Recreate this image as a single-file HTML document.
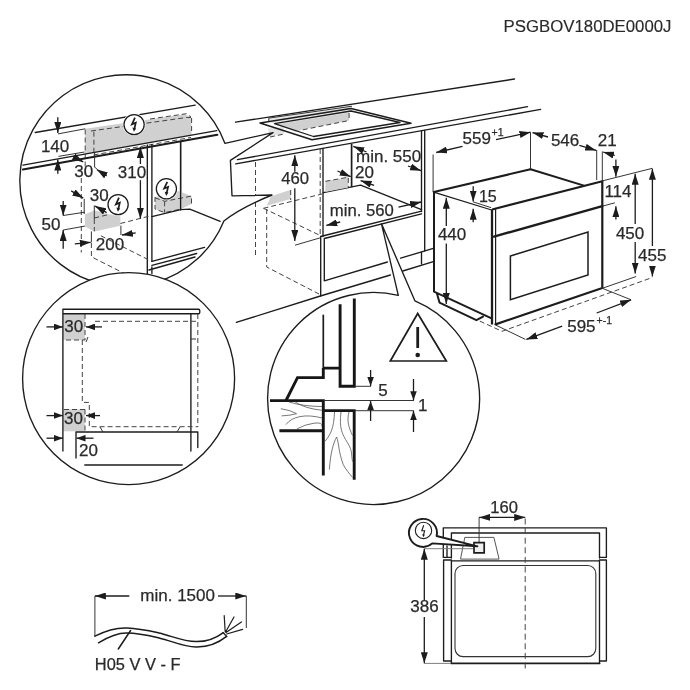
<!DOCTYPE html>
<html><head><meta charset="utf-8">
<style>
html,body{margin:0;padding:0;background:#fff;}
svg{display:block;will-change:transform;font-family:"Liberation Sans",sans-serif;}
.l{stroke:#1c1c1c;stroke-width:1.35;fill:none;stroke-linecap:round;stroke-linejoin:round}
.w{fill:#fff}
.s{marker-end:url(#as) !important;stroke-width:1.3 !important}
.t{stroke:#2a2a2a;stroke-width:.95;fill:none}
.k{stroke:#161616;stroke-width:2.9;fill:none;stroke-linejoin:miter}
.d{stroke:#444;stroke-width:1;fill:none;stroke-dasharray:5 3}
.g{fill:#d0d0d0;stroke:none}
.a{stroke:#1c1c1c;stroke-width:1.3;fill:none;marker-end:url(#ah)}
.aa{stroke:#1c1c1c;stroke-width:1.3;fill:none;marker-end:url(#ah);marker-start:url(#ah)}
text{fill:#2a2a2a;font-size:16.5px;stroke:#2a2a2a;stroke-width:.25px}
</style></head><body>
<svg width="690" height="690" viewBox="0 0 690 690">
<defs>
<marker id="ah" viewBox="0 0 11 7" refX="11" refY="3.5" markerWidth="11" markerHeight="7" markerUnits="userSpaceOnUse" orient="auto-start-reverse"><path d="M0,0L11,3.5L0,7z" fill="#1c1c1c"/></marker><marker id="as" viewBox="0 0 9 6.6" refX="9" refY="3.3" markerWidth="9" markerHeight="6.6" markerUnits="userSpaceOnUse" orient="auto-start-reverse"><path d="M0,0L9,3.3L0,6.6z" fill="#1c1c1c"/></marker>
<clipPath id="c1"><circle cx="125.8" cy="180.8" r="105.4"/></clipPath>
<clipPath id="c2"><circle cx="127" cy="379" r="106"/></clipPath>
<clipPath id="c3"><circle cx="373.4" cy="398.4" r="105.4"/></clipPath>
<symbol id="bolt" viewBox="-12 -12 24 24" overflow="visible"><circle r="11.3" fill="#fff"/><circle r="10.1" fill="#fff" stroke="#1c1c1c" stroke-width="1.25"/><path d="M0.9,-6.9L-2.2,-0.3L1.7,-1.9L0.2,4.6" fill="none" stroke="#1c1c1c" stroke-width="1.7" stroke-linejoin="miter"/><path d="M-1.7,2.9L2,3.8L-0.2,7.2z" fill="#1c1c1c"/></symbol>
</defs>
<rect width="690" height="690" fill="#fff"/>
<text x="503.6" y="32.2" style="font-size:16.8px;stroke-width:.15px">PSGBOV180DE0000J</text>
<g id="scene">
<path class="l" d="M235.5,122.2L514.5,79M237.4,159.6L527.5,106.7M235.7,163.9L540.6,109.4"/>
<!-- hob -->
<path class="g" d="M267.8,128.5L283,126.9L284.5,133.3L270.2,136.5z" style="fill:#e2e2e2"/>
<path class="g" d="M275,124.4L349.1,112.5V120.5L302.5,129.6L296,132z"/>
<path class="d" d="M270,137L285,133.8M302.8,129.8L349.1,120.5M349.1,113V120.5"/>
<path d="M268.8,118.1L352,106.2L351,111L275,123.7L268.8,121.8z" fill="#e6e6e6"/><path class="t" d="M268.8,121.6V118.1L352,106.2"/>
<path class="l" style="stroke-width:1.5" d="M260,123L351,108.5L411,123.3L312,139.8z"/>
<path class="l" style="stroke-width:1.3" d="M274.5,123.7L351,111L400,122.5L313.5,136.5z"/>
<!-- cabinet -->
<path class="l" d="M323,148.5V236.5M320.7,236.5V296M421.5,131V211.6M421.5,252.2V263.9M424.7,130.5V250.9"/>
<path class="l" style="stroke-width:1.7" d="M351.6,144.6V186.5"/><path class="l" d="M323.3,192.7L360.6,185.1L421.5,209.6"/>
<path class="l" d="M320.6,236.5L421.5,211.2M324.3,238.5L421.5,213.8M324.3,238.5V280.8L387.5,262M400.6,258.2L433.3,248.3M236.3,322.4L320.4,296L390.4,275M402.8,271L433.3,261.7"/>
<path class="g" d="M325.4,181.3L348.3,177.2V187.4L325.4,192z"/>
<path class="d" d="M325.4,181.3L348.3,177.2V187"/>
<path class="g" d="M271,196.3L290.7,189.8V199L266.7,205.7z"/>
<path class="d" d="M320.2,149V236M255.5,162V257.5M266.7,209V267L319,294M263.5,208.3L320,235.4M263.5,208.3L322,194M290.7,190V200"/>
<path class="t" d="M295,245.2L321,237.6"/>
<path class="a" d="M294.8,171.7V155.2"/><path class="a" d="M294.8,188.3V241"/>
<path class="a" d="M366.5,152L353.3,146.3"/><path class="a" d="M408,166L421.1,170.7"/>
<path class="a" d="M337.5,171L350.7,176.7"/><path class="a" d="M374.1,185.4L360.6,180.6"/>
<path class="a" d="M340.2,222L326.3,225.4"/><path class="a" d="M398.5,207.2L421.1,202"/>
<text x="281.2" y="184.4" style="font-size:16.7px">460</text>
<text x="356" y="162.3" style="font-size:17px">min. 550</text>
<text x="355" y="177.9" style="font-size:17px">20</text>
<text x="329.8" y="216.2" style="font-size:16.7px">min. 560</text>
</g>
<g id="oven">
<!-- top face & left face -->
<path class="l" style="stroke-width:2" d="M433.8,192L530.5,169.3"/>
<path class="l" style="stroke-width:2" d="M530.5,169.3L584,185.6"/>
<path class="l" style="stroke-width:1.3" d="M434.5,192.3L491.6,210"/>
<path class="l" style="stroke-width:2" d="M434,192V291.7L491,318.1M436.9,293.3L439.5,302.6L476.4,320.2L483,316.7"/>
<!-- front face -->
<path class="l" style="stroke-width:2.2" d="M493,209.2L602.3,181.2V288L495.5,324.4"/>
<path class="l" style="stroke-width:2.3;stroke-linecap:butt" d="M492,209.5V324.5"/><path class="l" style="stroke-width:1.2" d="M495.6,209V324"/>
<path class="l" style="stroke-width:2.4" d="M494,236.6L602.3,206.2"/>
<path class="l" style="stroke-width:1.5;stroke-linejoin:miter" d="M510.4,256L588,232V275L510.4,299.7z"/>
<path class="d" d="M479.8,321.1L502,331.3L652.4,277.5"/>
<path class="t" d="M496,325.2L525.4,339.4M602.3,288.3L636.2,276.5M602.3,288.3L631.1,299.8M602.3,180.9L652.4,168.3M602.3,206.2L614.9,202.8M596.7,150V180M602.3,151.4V180.9M433.1,154.5V192M530.5,132.2V169.3M473.2,201.9L491.2,207.7"/>
<!-- dims -->
<path class="a" d="M462.5,146.4L436.2,152.5"/><path class="a" d="M496,139.7L530.5,132.2"/>
<path class="a" d="M548,137L532.5,132.6"/><path class="a" d="M579.4,145.4L596.2,150.4"/>
<path class="a" d="M614.9,155.5L603.1,152"/>
<path class="a" d="M615.9,159.6V176.8"/><path class="a" d="M615.9,219.4V206.2"/>
<path class="a" d="M635.2,224V173.8"/><path class="a" d="M635.2,242V273.5"/>
<path class="a" d="M652.4,246V168.7"/><path class="a" d="M652.4,266.4V276.5"/>
<path class="a" d="M473.2,186.2V201.5"/><path class="a" d="M473.2,222.2V208.8"/>
<path class="a" d="M446.3,226V197.8"/><path class="a" d="M446.3,243.5V304"/>
<path class="a" d="M562.2,326.2L526.4,339.4"/><path class="a" d="M596.7,313L631.1,299.8"/>
<text x="462.6" y="144" style="font-size:17px">559</text><text x="491.5" y="136.3" style="font-size:10.5px">+1</text>
<text x="550.9" y="146.2" style="font-size:17px">546</text>
<text x="597.7" y="146" style="font-size:17px">21</text>
<text x="604.4" y="197" style="font-size:17px">114</text>
<text x="615.9" y="239" style="font-size:17px">450</text>
<text x="638.1" y="261" style="font-size:17px">455</text>
<text x="478.9" y="202.1" style="font-size:16px">15</text>
<text x="437.9" y="240.4" style="font-size:17px">440</text>
<text x="567.2" y="332.1" style="font-size:17px">595</text><text x="596.5" y="324" style="font-size:10.5px">+-1</text>
</g>
<g id="c1">
<path class="l w" d="M225,143.4A106,106 0 1 0 223.9,221Q240,208 272,195L232,195.8L230.4,160.4L273,132.6z"/>
<g clip-path="url(#c1)">
<path class="l" d="M35.2,132.5L195.2,105.2"/>
<path class="g" d="M85.2,128.8L185,114.3L191.4,117.4V135L85.2,154z"/>
<path class="d" d="M91,131L186.5,117.5L191.6,117.5M93.9,131.7V152M85.2,129.5V176M93.5,155L191,137.4M191.6,118V133.5M150,119L186.5,113.7L191,117"/>
<path class="l" d="M22.9,165.1L216.8,130.7"/>
<path class="l" style="stroke-width:1.9" d="M22.9,169.5L217.4,134.8"/>
<path class="l" d="M147.3,145V273.5M151.9,144.5V261.3M151.9,267V273.5M180.6,142.2V209.7"/>
<path class="g" d="M155,197L178.5,190.9L191.5,196.1V203.9L181,209.1L164.6,212.6L155,209.1z"/>
<path class="d" d="M155,197V209.1L164.6,212.6L181,209.1M164.6,201.3V212.6M155,197.8L164.6,201.3L191.5,196.1V203.9"/>
<path class="l" d="M180.6,142.2V209.7M151.9,216.6L180.6,209.7L189.8,209.1L220.2,221.3M151.9,261.3L204.6,247.4M151.9,265.3L196.7,253.5M148.9,270L195,257"/>
<path class="g" d="M84.9,214.5L94.5,210.3L108,214L120.4,216.5V225.7L94.3,231.4L84.9,226.4z"/>
<path class="d" d="M81.3,178V252.5M91.4,243V256.8L149,286M120.4,223.5L149,216.2M100.9,235.8L149,260M94.3,219V231.4M94.3,218L108,214.7"/>
<path class="t" d="M58,133.9L85.2,128.8M58.4,156.4L84.5,152M94.6,152V167.2L96.8,168.7M84.2,198.8V214M63.2,215.5L84.9,212.2M63.2,230L84.9,226.1M91.4,231.4V242.3M120.9,225.7V235M94.3,205.4V219"/>
</g>
<path class="a" d="M57.8,117.2V133"/><path class="a" d="M57.8,173.7V159.5"/>
<path class="a" d="M73,156.3L83.2,161.9"/><path class="a" d="M106.7,175.9L96.8,169.5"/>
<path class="a" d="M71.2,190.9L83.2,198.1"/><path class="a" d="M106.7,212.6L95.1,206.1"/>
<path class="a" d="M140.4,164V146.9"/><path class="a" d="M140.4,180.2V218.7"/>
<path class="a" d="M63.2,201V215.5"/><path class="a" d="M63.2,248.8V230"/>
<path class="a" d="M74.8,243.8L90.7,242.3"/><path class="a" d="M135.7,232.9L121.9,235"/>
<text x="40.9" y="152.3" style="font-size:17px">140</text>
<text x="74.3" y="177" style="font-size:17px">30</text>
<text x="89.8" y="201" style="font-size:17px">30</text>
<text x="117.8" y="178" style="font-size:17px">310</text>
<text x="41.5" y="230" style="font-size:17px">50</text>
<text x="95.8" y="250" style="font-size:17px">200</text>
<use href="#bolt" x="122.1" y="112.6" width="24" height="24"/>
<use href="#bolt" x="106.1" y="192.6" width="24" height="24"/>
<use href="#bolt" x="154.4" y="176.8" width="24" height="24"/>
</g>
<g id="c2">
<circle cx="128.6" cy="378.6" r="106" class="l w"/>
<rect class="g" x="63.2" y="313.7" width="21.6" height="26.2"/>
<rect class="g" x="63.2" y="409.3" width="21.6" height="22"/>
<path class="d" d="M85,314V340H63.5M85,409.5H63.5M85,409.5V431"/>
<path class="l" d="M62.9,309.2H198.6a1.2,2.2 0 0 1 0,4.5H62.9zM62.9,313.7V451M190.9,313.7V451M76,458V432H197.8V447.6M84.8,465H182.2"/>
<path class="d" d="M95,321.3H197.8M197.8,314V427M82.3,340V402.4H89.3V426.7H197.8"/>
<path class="t" d="M86,342l2,-5M100,427l3,5M180,427l-3,5M191,339h5"/>
<path class="a s" d="M46.5,326.9H62.9"/><path class="a s" d="M102,326.9H86"/>
<path class="a s" d="M46.5,415.6H62.9"/><path class="a s" d="M100,415.6H86"/>
<path class="a s" d="M46.5,438.2H62.9"/><path class="a s" d="M93.5,438.2H76.5"/>
<text x="64.2" y="332" style="font-size:17px">30</text>
<text x="64.0" y="423.8" style="font-size:17px">30</text>
<text x="79.0" y="456" style="font-size:17px">20</text>
</g>
<g id="c3">
<path class="l w" d="M398.3,295.4L381.5,223.8L415,300.9A106,106 0 1 1 398.3,295.4z"/>
<g clip-path="url(#c3)">
<path class="l" style="stroke-width:1.7" d="M323.3,315.4V368"/>
<path class="k" d="M323.3,368.1V377.6H297.5L286,400.5M323.3,368.1H340.1"/>
<path class="k" d="M340.1,304.2V386.3H354.3V298.5"/>
<path class="k" d="M270,400.6H323.3V475.5M323.3,410.6H354.2V479.7M279.4,430.8H323.3"/>
<path class="t" d="M354.3,386.3H371M323.3,400.5H414M354.3,410.7H414"/>
<path class="t" style="stroke:#555;stroke-width:.8" d="M280.8,408.7Q291,410.2 296.5,413.7Q291,415.4 281.6,415.9M285.9,424.6Q290.5,418.5 300,416.6T322.1,418M296.8,429Q305,424.3 314,423.2T321.8,426.2M295.3,402.1Q305,408.5 322.1,410.3M289,402Q304,406.5 322,406.5"/>
<path class="t" style="stroke:#555;stroke-width:.8" d="M334.5,412C333.8,428 331,434 325,441.3M341,412C339,428 342,434 347.5,442.7S351,455 352.6,461.6M349,412C346.5,421 349,428 352.6,435.5M329.4,469.5C330.5,452 333.5,443 336.6,437C339,443 338.5,452 343.2,464.5C346,470 349,473 352.6,477.5"/>
</g>
<path class="a s" d="M370.6,370V386"/><path class="a s" d="M370.6,421V401"/>
<path class="a s" d="M413.5,379V400.2"/><path class="a s" d="M413.5,432V411"/>
<text x="378.2" y="396" style="font-size:17px">5</text>
<text x="417.9" y="411" style="font-size:17px">1</text>
<path d="M417.7,313.5L446.3,361H390.3z" fill="none" stroke="#1c1c1c" stroke-width="1.7" stroke-linejoin="miter"/>
<path d="M417.7,327V348" stroke="#1c1c1c" stroke-width="2.8" fill="none"/><circle cx="417.7" cy="355" r="2.3" fill="#1c1c1c"/>
</g>
<g id="back">
<path class="l" d="M443.3,557.4V527.8H606.4V557.4M451.4,558V533H599.5V558M443.3,557.4H451.4M599.5,557.4H606.4M447,546V557.4"/>
<path class="l" d="M443.6,560H451.4M599.5,560H606.4M443.6,560V661H451.4M606.4,560V661H599.5M451.4,560.9H599.5M451.4,560V663.4M599.5,560V663.4"/>
<path class="l" style="stroke-width:1.8" d="M451.4,663.4H599.5"/>
<rect class="l" style="stroke:#333;stroke-width:1.1" x="455" y="565.5" width="140.8" height="91.1" rx="8" ry="8"/>
<path class="l" style="stroke:#555;stroke-width:1" d="M465.2,537.4H493.9L499.1,559.1H460.9z"/>
<path class="d" style="stroke-dasharray:6 3.6" d="M525.2,518.5V669.5"/>
<path class="t" style="stroke:#333" d="M479.1,517.4V546"/><path class="t" style="stroke:#777" d="M424.3,548.7H473M424.3,663.4H451"/>
<path class="l" style="stroke-width:1.7;fill:#f0f0f0;stroke-linejoin:miter" d="M474,542.7H484.2V552.9H474z"/>
<path class="l" style="stroke-width:1.9;fill:#fff" d="M436.6,536A14,14 0 1 0 432.2,543.4L477.4,546.3z"/>
<circle cx="423.5" cy="530.4" r="8.2" class="l" style="stroke-width:1.1"/>
<path d="M423.7,525.2L421.8,530.8H424.6L423.5,535" fill="none" stroke="#1c1c1c" stroke-width="1.1"/><path d="M422.2,534.2L424.9,534.8L423.2,537.3z" fill="#1c1c1c"/>
<path class="aa" d="M479.1,517.4H525.2"/>
<path class="a" d="M424.3,600V548.7"/><path class="a" d="M424.3,617V663.2"/>
<text x="490.3" y="513" style="font-size:16.6px">160</text>
<text x="410.3" y="612" style="font-size:17px">386</text>
</g>
<g id="cable">
<path class="t" style="stroke:#333;stroke-width:1" d="M94.9,596V636.7M246.3,596V628"/>
<path class="a" d="M129.3,596H94.9"/><path class="a" d="M218,596H246.3"/>
<text x="140.3" y="601" style="font-size:17px">min. 1500</text>
<path class="l" style="stroke-width:1.5" d="M94.9,636.2C105,631 116,627.6 127,628C139,628.4 148,630.5 159,633C172,636 183,641.4 196,641.6C207,641.8 216,638 223,632.8"/>
<path class="l" style="stroke-width:1.5" d="M98.5,642.8C108,637 117,632.8 127,633C139,633.2 148,635.4 159,637.9C172,640.9 183,646.8 196,647C208,647.2 219,642.5 226.6,636.4"/>
<path class="l" d="M223,632.5L226.8,636.6"/>
<path class="l" style="stroke-width:1.2" d="M225.2,632L224.2,615.7M225.6,632L234,617M226,632.5L241.4,621.9M226.6,634L242.6,629.3"/>
<path class="l" style="stroke-width:1.5" d="M130.6,630.5L118.3,649"/>
<text x="94.8" y="670" style="font-size:16.4px">H05 V V - F</text>
</g>
</svg>
</body></html>
